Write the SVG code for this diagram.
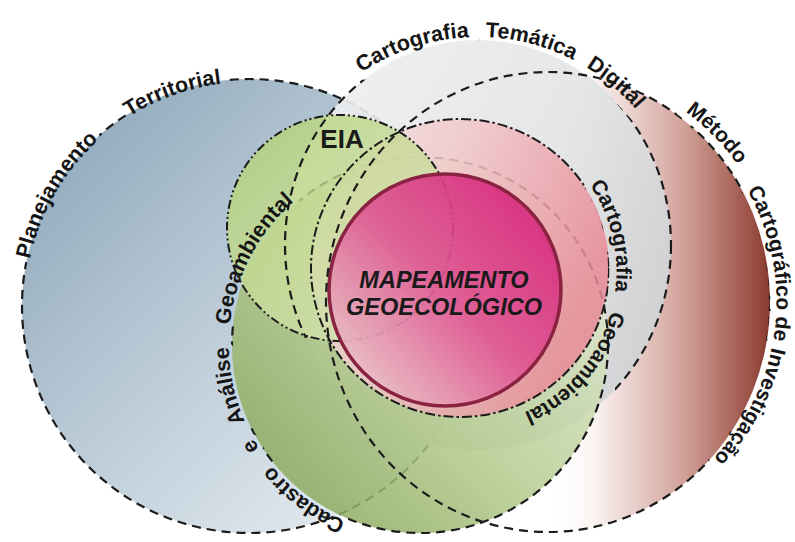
<svg xmlns="http://www.w3.org/2000/svg" width="795" height="542" viewBox="0 0 795 542">
<style>
  .ring{font-family:"Liberation Sans",Arial,sans-serif;font-weight:bold;font-size:21.5px}
  .ring-s{font-family:"Liberation Sans",Arial,sans-serif;font-weight:bold;font-size:21px}
  .dash{fill:none;stroke:#1b1b1b;stroke-width:2.2;stroke-dasharray:9 6}
  .dashdot{fill:none;stroke:#1b1b1b;stroke-width:2;stroke-dasharray:10 3 2.5 3}
  .dashdotdot{fill:none;stroke:#1b1b1b;stroke-width:2;stroke-dasharray:9 3 2 3 2 3}
  .title{font-family:"Liberation Sans",Arial,sans-serif;font-weight:bold;fill:#1a1a1a}
</style>
<defs>
  <linearGradient id="gA" x1="0" y1="0" x2="1" y2="1">
    <stop offset="0" stop-color="#86a1b5"/><stop offset="0.45" stop-color="#b9cad6"/><stop offset="1" stop-color="#f3f6f9"/>
  </linearGradient>
  <linearGradient id="gB" x1="0" y1="0" x2="1" y2="0.6">
    <stop offset="0" stop-color="#f1f1f2"/><stop offset="0.6" stop-color="#e2e4e5"/><stop offset="1" stop-color="#d1d4d7"/>
  </linearGradient>
  <linearGradient id="gC" x1="0" y1="0" x2="1" y2="0">
    <stop offset="0" stop-color="#ffffff" stop-opacity="0"/><stop offset="0.5" stop-color="#ffffff" stop-opacity="0"/>
    <stop offset="0.6" stop-color="#fbf4f3"/><stop offset="0.8" stop-color="#d3a49c"/><stop offset="1" stop-color="#8c3b2f"/>
  </linearGradient>
  <linearGradient id="gE" x1="0" y1="1" x2="1" y2="0">
    <stop offset="0" stop-color="#7a9b48"/><stop offset="0.45" stop-color="#b4cb8f"/><stop offset="1" stop-color="#f1f4e8"/>
  </linearGradient>
  <linearGradient id="gD" x1="0" y1="0" x2="1" y2="1">
    <stop offset="0" stop-color="#aed06a"/><stop offset="0.5" stop-color="#c9dc9a"/><stop offset="1" stop-color="#dfe6c6"/>
  </linearGradient>
  <linearGradient id="gF" x1="0" y1="0" x2="1" y2="0.4">
    <stop offset="0" stop-color="#f4e4e4"/><stop offset="0.45" stop-color="#f2c9cb"/><stop offset="1" stop-color="#e88a97"/>
  </linearGradient>
  <linearGradient id="gG" x1="1" y1="0" x2="0" y2="1">
    <stop offset="0" stop-color="#d41a76"/><stop offset="0.5" stop-color="#df5793"/><stop offset="1" stop-color="#ece0d6"/>
  </linearGradient>

  <!-- baselines for the ring captions, all running clockwise -->
  <path id="pA" d="M28.4,267.1 A224,224 0 1 1 469.6,344.9 A224,224 0 1 1 28.4,267.1"/>
  <path id="pB" d="M355.7,76.7 A208,208 0 1 1 600.3,413.3 A208,208 0 1 1 355.7,76.7"/>
  <path id="pC" d="M661,104.3 A226,226 0 1 1 435,495.7 A226,226 0 1 1 661,104.3"/>
  <path id="pC2" d="M664.5,98.2 A233,233 0 1 1 431.5,501.8 A233,233 0 1 1 664.5,98.2"/>
  <path id="pE" d="M354.7,524.5 A191,191 0 1 1 485.3,165.5 A191,191 0 1 1 354.7,524.5"/>
  <path id="pF" d="M586.1,179.7 A154,154 0 1 1 333.9,356.3 A154,154 0 1 1 586.1,179.7"/>

  <!-- outlines break where their caption runs -->
  <mask id="mA" maskUnits="userSpaceOnUse" x="0" y="0" width="795" height="542">
    <rect width="795" height="542" fill="#fff"/><use href="#tA" fill="#000" stroke="#000" stroke-width="10"/>
  </mask>
  <mask id="mB" maskUnits="userSpaceOnUse" x="0" y="0" width="795" height="542">
    <rect width="795" height="542" fill="#fff"/><use href="#tB" fill="#000" stroke="#000" stroke-width="20"/>
    <rect x="280" y="338" width="335" height="130" fill="#000"/>
  </mask>
  <mask id="mC" maskUnits="userSpaceOnUse" x="0" y="0" width="795" height="542">
    <rect width="795" height="542" fill="#fff"/><use href="#tC" fill="#000" stroke="#000" stroke-width="14"/>
  </mask>
  <mask id="mE" maskUnits="userSpaceOnUse" x="0" y="0" width="795" height="542">
    <rect width="795" height="542" fill="#fff"/><use href="#tE" fill="#000" stroke="#000" stroke-width="12"/>
  </mask>
  <mask id="mF" maskUnits="userSpaceOnUse" x="0" y="0" width="795" height="542">
    <rect width="795" height="542" fill="#fff"/><use href="#tF" fill="#000" stroke="#000" stroke-width="14"/>
  </mask>
</defs>

<rect width="795" height="542" fill="#ffffff"/>

<g id="planejamento-territorial">
  <circle cx="249" cy="306" r="227" fill="url(#gA)"/>
  <circle cx="249" cy="306" r="227" class="dash" mask="url(#mA)"/>
</g>
<g id="metodo-cartografico">
  <ellipse cx="548" cy="302" rx="222" ry="230" fill="url(#gC)"/>
</g>
<g id="cartografia-tematica-digital">
  <ellipse cx="478" cy="245" rx="193" ry="205" fill="url(#gB)" fill-opacity="0.9"/>
</g>
<g id="cadastro-analise-geoambiental">
  <circle cx="420" cy="345" r="188" fill="url(#gE)" fill-opacity="0.85"/>
  <circle cx="420" cy="345" r="188" class="dash" mask="url(#mE)"/>
</g>
<g id="cartografia-geoambiental">
  <circle cx="460" cy="268" r="149" fill="url(#gF)" fill-opacity="0.85"/>
</g>
<g id="eia">
  <circle cx="340" cy="228" r="113" fill="url(#gD)" fill-opacity="0.8"/>
  <circle cx="340" cy="228" r="113" class="dashdotdot"/>
</g>
<g id="mapeamento-geoecologico">
  <circle cx="445" cy="290" r="116" fill="url(#gG)" fill-opacity="0.92" stroke="#8a2342" stroke-width="3.5"/>
</g>

<g id="outlines">
  <ellipse cx="478" cy="245" rx="193" ry="205" class="dash" mask="url(#mB)"/>
  <ellipse cx="548" cy="302" rx="222" ry="230" class="dash" mask="url(#mC)"/>
  <circle cx="460" cy="268" r="149" class="dashdot" mask="url(#mF)"/>
</g>

<g id="labels" fill="#151515">
  <text id="tA" class="ring"><textPath href="#pA" startOffset="8">Planejamento</textPath><textPath href="#pA" startOffset="186">Territorial</textPath></text>
  <text id="tB" class="ring"><textPath href="#pB" startOffset="7">Cartografia</textPath><textPath href="#pB" startOffset="138">Temática</textPath><textPath href="#pB" startOffset="244">Digital</textPath></text>
  <text id="tC" class="ring-s"><textPath href="#pC2" startOffset="25">Método</textPath><textPath href="#pC" startOffset="123">Cartográfico</textPath><textPath href="#pC" startOffset="254">de</textPath><textPath href="#pC" startOffset="285.5">Investigação</textPath></text>
  <text id="tE" class="ring"><textPath href="#pE" startOffset="9.7">Cadastro</textPath><textPath href="#pE" startOffset="124">e</textPath><textPath href="#pE" startOffset="154.7">Análise</textPath><textPath href="#pE" startOffset="253.4">Geoambiental</textPath></text>
  <text id="tF" class="ring-s"><textPath href="#pF" startOffset="6.2">Cartografia</textPath><textPath href="#pF" startOffset="137.9">Geoambiental</textPath></text>
  <text class="title" font-size="26" text-anchor="middle" x="342" y="148">EIA</text>
  <text class="title" font-style="italic" font-size="23.5" text-anchor="middle" x="444" y="288">MAPEAMENTO</text>
  <text class="title" font-style="italic" font-size="23.5" text-anchor="middle" x="444" y="315">GEOECOLÓGICO</text>
</g>
</svg>
